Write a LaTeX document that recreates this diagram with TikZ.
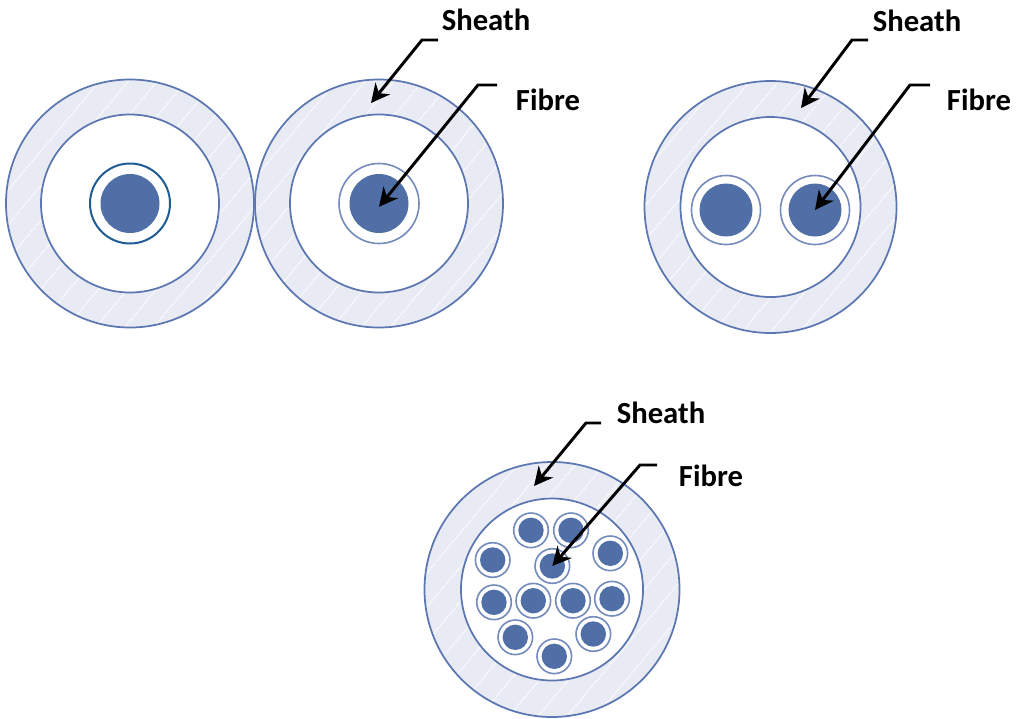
\documentclass[tikz,border=0pt]{standalone}
\usepackage{fontspec}
\setmainfont{Carlito}
\usetikzlibrary{patterns.meta,arrows.meta}
\definecolor{ringblue}{HTML}{5B76B0}
\definecolor{coreblue}{HTML}{4F6FA6}
\definecolor{darkring}{HTML}{1F5C94}
\definecolor{hatchbg}{HTML}{E8EAF4}
\tikzset{
  every node/.style={font=\bfseries\fontsize{23}{27}\selectfont},
  sheath/.style={
    circle, draw=ringblue, line width=1.3pt, inner sep=0pt, minimum size=#1*1.5pt,
    preaction={fill=hatchbg},
    pattern={Lines[angle=50,distance=17pt,line width=0.7pt]}, pattern color=white!85!hatchbg
  },
  bore/.style={
    circle, draw=ringblue, line width=1.3pt, fill=white, inner sep=0pt, minimum size=#1*1.5pt
  },
  sleeve/.style={
    circle, draw=ringblue!85, line width=1.2pt, fill=white, inner sep=0pt, minimum size=#1*1.5pt
  },
  core/.style={
    circle, fill=coreblue, inner sep=0pt, minimum size=#1*1.5pt
  },
  lead/.style={-{Stealth[length=14pt,width=14pt,inset=4.5pt]}, line width=2.2pt, draw=black}
}
\begin{document}
\begin{tikzpicture}[x=0.75pt,y=-0.75pt]
\useasboundingbox (0,0) rectangle (1023,718);

% single fibre, no leads
\node[sheath=124] (sheathA) at (130,203.5) {};
\node[bore=89] (boreA) at (sheathA) {};
\node[sleeve=40, draw=darkring, line width=1.5pt] (sleeveA) at (sheathA) {};
\node[core=29.5] (fibreA) at (sheathA) {};

% single fibre
\node[sheath=124] (sheathB) at (379,203.5) {};
\node[bore=89] (boreB) at (sheathB) {};
\node[sleeve=40] (sleeveB) at (sheathB) {};
\node[core=29.5] (fibreB) at (sheathB) {};

% two fibres
\node[sheath=126] (sheathC) at (770.5,207) {};
\node[bore=90] (boreC) at (sheathC) {};
\node[sleeve=34.5] (sleeveC) at (726,210) {};
\node[core=26.5] (fibreC) at (sleeveC) {};
\node[sleeve=34.5] (sleeveD) at (815,210) {};
\node[core=26.5] (fibreD) at (sleeveD) {};

% bundle
\node[sheath=127.5] (sheathE) at (552,589.5) {};
\node[bore=91] (boreE) at (sheathE) {};
\foreach \n/\x/\y in {a/531/530.3, b/571/530.3, c/610.3/553.3, d/492.7/560,
    e/552.3/566, f/494/602.3, g/533.3/600.7, h/573/600.7, i/612/598.7,
    j/515.3/637.3, k/593.3/634, l/554.3/656.3} {
  \node[sleeve=17.3] (sleeve\n) at (\x,\y) {};
  \node[core=12.7] (fibre\n) at (\x,\y) {};
}

% labels
\node (sheathlabB) at (486,20) {Sheath};
\node (fibrelabB) at (548,100) {Fibre};
\node (sheathlabC) at (917,21) {Sheath};
\node (fibrelabC) at (979,100) {Fibre};
\node (sheathlabE) at (661,413) {Sheath};
\node (fibrelabE) at (711,476) {Fibre};

% leads
\coordinate (tipB) at (371,103);
\coordinate (tipC) at (801,108);
\coordinate (tipE) at (534,486);
\draw[lead] (438,40) -- (422,40) -- (tipB);
\draw[lead] (497,85) -- (478,85) -- ([yshift=-2.5pt]fibreB.center);
\draw[lead] (868,40) -- (852,40) -- (tipC);
\draw[lead] (930,85) -- (910,85) -- (fibreD.center);
\draw[lead] (601,423) -- (586,423) -- (tipE);
\draw[lead] (657,465) -- (640,465) -- (fibree.center);

\end{tikzpicture}
\end{document}
